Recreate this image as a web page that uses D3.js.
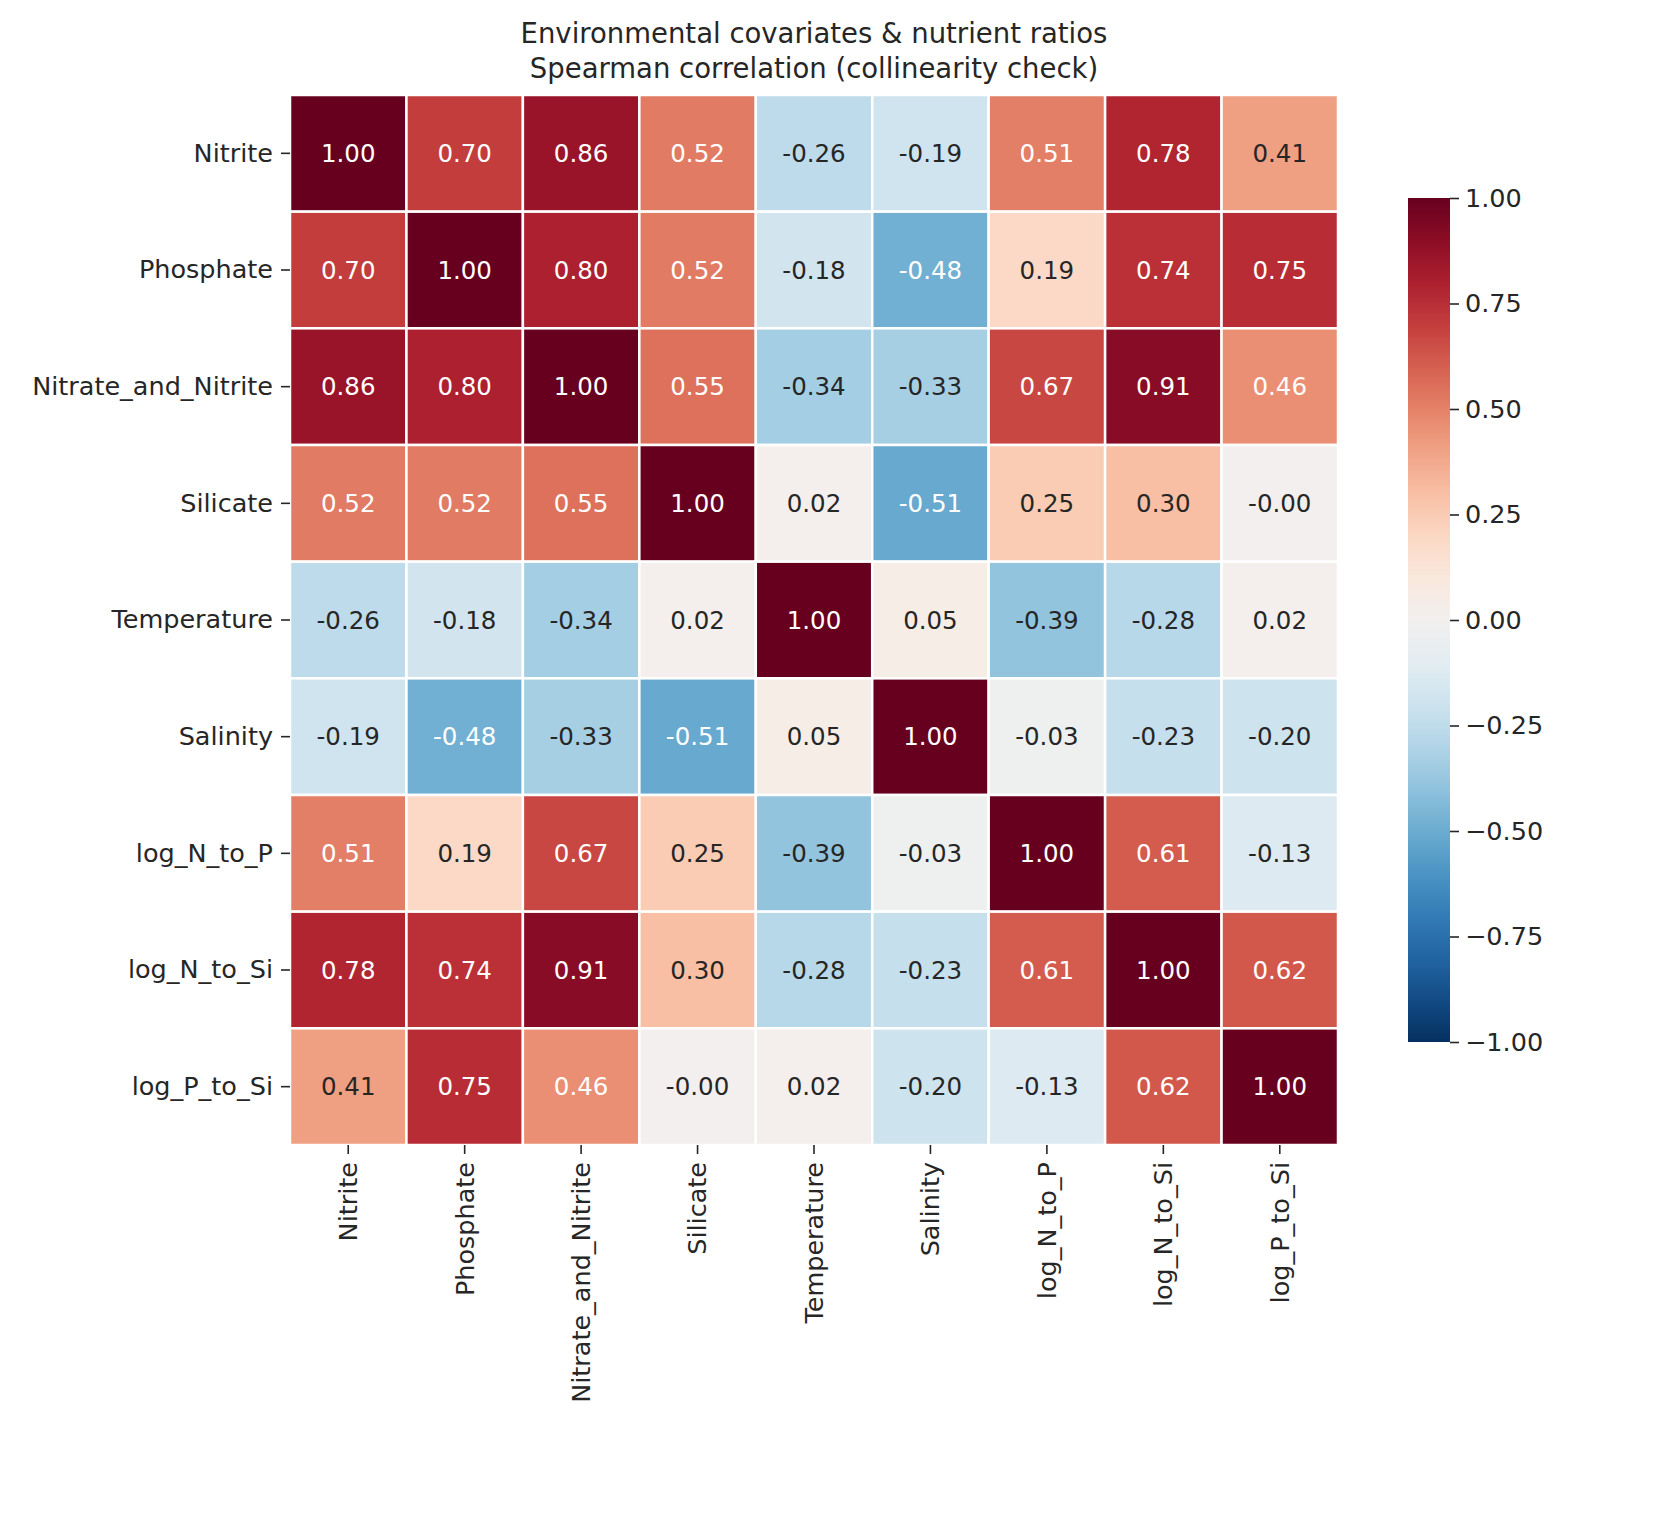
<!DOCTYPE html><html><head><meta charset="utf-8">
<script src="https://cdn.jsdelivr.net/npm/d3@7"></script>
<style>body{margin:0;background:#fff}text{font-family:"DejaVu Sans",sans-serif;fill:#262626}</style></head><body>
<script>
const labels=["Nitrite","Phosphate","Nitrate_and_Nitrite","Silicate","Temperature","Salinity","log_N_to_P","log_N_to_Si","log_P_to_Si"];
const values=[
[1.00,0.70,0.86,0.52,-0.26,-0.19,0.51,0.78,0.41],
[0.70,1.00,0.80,0.52,-0.18,-0.48,0.19,0.74,0.75],
[0.86,0.80,1.00,0.55,-0.34,-0.33,0.67,0.91,0.46],
[0.52,0.52,0.55,1.00,0.02,-0.51,0.25,0.30,-0.00],
[-0.26,-0.18,-0.34,0.02,1.00,0.05,-0.39,-0.28,0.02],
[-0.19,-0.48,-0.33,-0.51,0.05,1.00,-0.03,-0.23,-0.20],
[0.51,0.19,0.67,0.25,-0.39,-0.03,1.00,0.61,-0.13],
[0.78,0.74,0.91,0.30,-0.28,-0.23,0.61,1.00,0.62],
[0.41,0.75,0.46,-0.00,0.02,-0.20,-0.13,0.62,1.00]];
const cbTicks=[1,0.75,0.5,0.25,0,-0.25,-0.5,-0.75,-1];
const W=1664,H=1522;
const svg=d3.select("body").append("svg").attr("width",W).attr("height",H);
const x=d3.scaleBand().domain(labels).range([290,1338]);
const y=d3.scaleBand().domain(labels).range([95,1145]);
const col=v=>d3.interpolateRdBu(1-(v+1)/2);
const lum=c=>{const r=d3.rgb(c);const f=u=>{u/=255;return u<=0.03928?u/12.92:Math.pow((u+0.055)/1.055,2.4)};return 0.2126*f(r.r)+0.7152*f(r.g)+0.0722*f(r.b)};
const fmt=v=>(Object.is(v,-0)?"-":"")+v.toFixed(2);
const cells=[];values.forEach((row,i)=>row.forEach((v,j)=>cells.push({i,j,v})));
svg.selectAll("rect.c").data(cells).join("rect").attr("x",d=>x(labels[d.j])).attr("y",d=>y(labels[d.i]))
 .attr("width",x.bandwidth()).attr("height",y.bandwidth()).attr("fill",d=>col(d.v)).attr("stroke","#fff").attr("stroke-width",2.5);
svg.selectAll("text.v").data(cells).join("text").attr("x",d=>x(labels[d.j])+x.bandwidth()/2).attr("y",d=>y(labels[d.i])+y.bandwidth()/2)
 .attr("text-anchor","middle").attr("dominant-baseline","central").attr("font-size",24.5)
 .style("fill",d=>lum(col(d.v))>0.408?"#262626":"#fff").text(d=>fmt(d.v));
const ya=svg.append("g").attr("transform","translate(290,0)").call(d3.axisLeft(y).tickSize(9).tickPadding(8));
const xa=svg.append("g").attr("transform","translate(0,1145)").call(d3.axisBottom(x).tickSize(9).tickPadding(8));
[ya,xa].forEach(a=>{a.select(".domain").remove();a.selectAll("text").attr("font-size",25.5).style("fill","#262626");a.selectAll("line").attr("stroke","#262626").attr("stroke-width",1.6)});
xa.selectAll("text").attr("transform","rotate(-90)").attr("text-anchor","end").attr("dx","-17").attr("dy","0.35em").attr("x",0).attr("y",0);
const cb=d3.scaleLinear().domain([-1,1]).range([1042,198]);
const defs=svg.append("defs");const g=defs.append("linearGradient").attr("id","g").attr("x1",0).attr("y1",1).attr("x2",0).attr("y2",0);
d3.range(0,1.0001,0.05).forEach(t=>g.append("stop").attr("offset",t).attr("stop-color",d3.interpolateRdBu(1-t)));
svg.append("rect").attr("x",1408).attr("y",198).attr("width",42).attr("height",844).attr("fill","url(#g)");
const ca=svg.append("g").attr("transform","translate(1450,0)").call(d3.axisRight(cb).tickValues(cbTicks).tickSize(9).tickPadding(6));
ca.select(".domain").remove();ca.selectAll("text").attr("font-size",25.5).style("fill","#262626").text(d=>d3.format(".2f")(d).replace("-","−"));
ca.selectAll("line").attr("stroke","#262626").attr("stroke-width",1.6);
svg.append("text").attr("x",814).attr("y",43).attr("text-anchor","middle").attr("font-size",27.5).text("Environmental covariates & nutrient ratios");
svg.append("text").attr("x",814).attr("y",78).attr("text-anchor","middle").attr("font-size",27.5).text("Spearman correlation (collinearity check)");
</script></body></html>
